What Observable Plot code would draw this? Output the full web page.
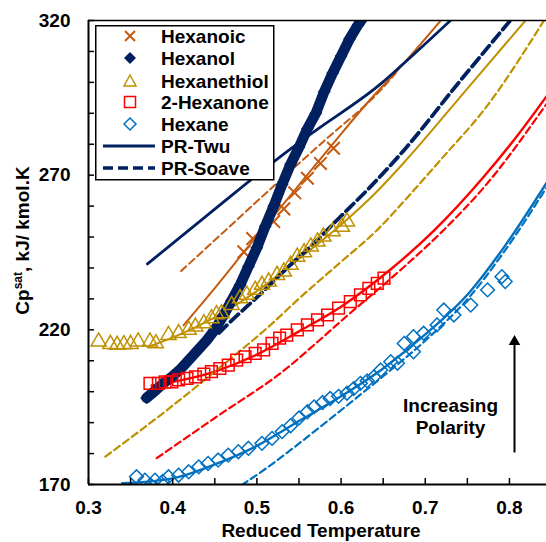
<!DOCTYPE html>
<html><head><meta charset="utf-8">
<script src="https://cdn.jsdelivr.net/npm/d3@7"></script>
<script src="https://cdn.jsdelivr.net/npm/@observablehq/plot@0.6"></script>
<style>
body{margin:0;background:#fff}
#wrap{position:relative;width:546px;height:542px;font-family:"Liberation Sans",Arial,sans-serif}
#legend{position:absolute;left:95px;top:25px}
</style>
</head><body><div id="wrap"></div>
<script>
// ---------- data (reduced temperature, Cp sat kJ/kmol.K) ----------
const hexanoicPts = [[0.4845,245.2],[0.495,249.5],[0.52,255],[0.532,259.1],[0.545,264.3],[0.560,269],[0.5755,273.8],[0.591,278.7]];
const hexanolPts = [[0.369,198],[0.38,200.5],[0.39,203],[0.40,205],[0.41,207.5],[0.42,210.5],[0.43,213.5],[0.44,216.5],[0.45,220],[0.46,224.5],[0.47,229.5],[0.48,234.5],[0.49,240.5],[0.50,246.5],[0.51,253.5],[0.52,260],[0.53,267],[0.54,273.5],[0.55,279],[0.56,285],[0.57,290],[0.58,297],[0.59,303],[0.60,308.5],[0.61,314],[0.62,318.5],[0.625,320.5]];
const thiolPts = [[0.312,216.2],[0.326,215.4],[0.334,215.1],[0.342,215.3],[0.350,215.4],[0.359,216.2],[0.373,216.2],[0.380,215.6],[0.395,218.3],[0.407,218.9],[0.419,220],[0.427,221],[0.437,222.1],[0.446,223.7],[0.452,225],[0.458,225.3],[0.470,228],[0.480,230.2],[0.488,231.3],[0.498,232.9],[0.506,234.5],[0.514,235.6],[0.524,237.7],[0.532,238.8],[0.540,241],[0.548,243.6],[0.556,245],[0.564,246.9],[0.572,248.5],[0.579,250.1],[0.590,251.8],[0.601,253.3],[0.607,255]];
const ketonePts = [[0.373,202.7],[0.383,202.7],[0.391,203.2],[0.399,203.2],[0.407,203.8],[0.417,204.3],[0.427,204.8],[0.437,205.7],[0.446,206.5],[0.456,207.5],[0.466,208.6],[0.476,210.2],[0.486,211.3],[0.498,212.4],[0.508,213.5],[0.518,215.6],[0.527,217.3],[0.5355,218.3],[0.548,220],[0.560,221.6],[0.572,223.2],[0.584,224.8],[0.597,227],[0.611,229.1],[0.623,231.3],[0.633,233.4],[0.643,235],[0.651,236.7]];
const hexanePts = [[0.357,172.5],[0.367,171.4],[0.374,169.8],[0.379,171.4],[0.388,171],[0.395,172.5],[0.407,173],[0.419,174.1],[0.431,175.7],[0.442,176.8],[0.454,177.9],[0.466,179.5],[0.478,180.6],[0.490,181.7],[0.506,183.3],[0.518,184.9],[0.530,187.1],[0.540,189],[0.550,191.5],[0.560,193.5],[0.568,195.1],[0.578,196.5],[0.587,197.8],[0.597,198.5],[0.607,199.5],[0.615,201],[0.623,202.7],[0.631,203.5],[0.639,204.8],[0.647,207],[0.659,209.7],[0.667,209.2],[0.675,215.6],[0.686,217.8],[0.686,212.9],[0.698,218.9],[0.714,221.6],[0.722,226.4],[0.734,224.8],[0.754,228],[0.774,232.9],[0.791,237.2],[0.795,235.6]];

const hexanoicTwu = [[0.413,221.5],[0.45,233.5],[0.49,247],[0.54,263.5],[0.59,280],[0.63,293],[0.674,306],[0.72,320.5]];
const hexanoicSoave = [[0.41,239],[0.46,251.5],[0.51,264],[0.5795,281],[0.647,297.5],[0.665,303]];
const hexanolTwu = [[0.37,241.3],[0.45,259],[0.528,276],[0.5676,284],[0.647,299.5],[0.674,306],[0.73,320]];
const hexanolSoave = [[0.455,219],[0.474,224],[0.50,230.5],[0.536,240],[0.5716,249],[0.5953,255.5],[0.635,266.3],[0.6745,278],[0.74,300],[0.801,320]];
const thiolTwu = [[0.37,214.5],[0.40,217.5],[0.45,224],[0.50,232.5],[0.55,243],[0.60,254],[0.64,264],[0.6745,274],[0.75,298],[0.819,320]];
const thiolSoave = [[0.32,179],[0.40,195.5],[0.45,206.5],[0.52,222.5],[0.548,229.6],[0.60,242],[0.643,252.3],[0.6745,261.5],[0.72,275.5],[0.7695,291],[0.841,320]];
const ketoneTwu = [[0.375,202],[0.45,206.5],[0.50,212],[0.55,219.5],[0.60,227.5],[0.6587,239.5],[0.71,252],[0.7695,269.5],[0.81,283],[0.844,295.5]];
const ketoneSoave = [[0.381,178.5],[0.45,191.5],[0.5375,208],[0.5716,216],[0.607,224.5],[0.6587,236.5],[0.722,252.3],[0.7695,266],[0.844,293]];
const hexaneTwu = [[0.34,170.4],[0.40,172],[0.45,176.5],[0.50,182.5],[0.55,190.5],[0.60,198.5],[0.65,207.5],[0.70,218.5],[0.7537,232.5],[0.793,246.5],[0.844,267.5]];
const hexaneSoave = [[0.482,169.8],[0.516,176.2],[0.5375,180.6],[0.5755,188.7],[0.615,197.3],[0.65,205],[0.70,216.5],[0.7537,231],[0.793,245],[0.844,266]];

const seriesNames = ["Hexanoic","Hexanol","Hexanethiol","2-Hexanone","Hexane"];
const modelNames = ["PR-Twu","PR-Soave"];
const xTickLabels = [0.3,0.4,0.5,0.6,0.7,0.8];
const xMinorTicks = [0.3,0.35,0.4,0.45,0.5,0.55,0.6,0.65,0.7,0.75,0.8];
const yTickLabels = [170,220,270,320];
const yMinorTicks = [170,180,190,200,210,220,230,240,250,260,270,280,290,300,310,320];
const xTitle = "Reduced Temperature";
const yTitleParts = ["Cp", "sat", ", kJ/ kmol.K"];
const annotationText = "Increasing\nPolarity";
const annotationPos = [0.73, 192.1];
const arrowX = 0.806, arrowFrom = 180.2, arrowTo = 216.2;

// ---------- styling ----------
const C = {hexanoic:"#C55A11", hexanol:"#002060", thiol:"#BF9000", ketone:"#FF0000", hexane:"#0070C0"};
const rows = a => a.map(([x,y]) => ({x,y}));
const FONT = "'Liberation Sans', Arial, sans-serif";

const line = (d, color, w, dash) => Plot.line(rows(d), {x:"x", y:"y", stroke: color, strokeWidth: w, strokeDasharray: dash, curve: "monotone-x", clip: true});

const chart = Plot.plot({
  width: 546, height: 542,
  marginLeft: 88, marginRight: 0, marginTop: 20, marginBottom: 58,
  x: {domain: [0.3, 0.844]},
  y: {domain: [170, 320]},
  style: {fontFamily: FONT, fontSize: "19px", fontWeight: "bold", color: "#000", background: "#fff", overflow: "visible"},
  marks: [
    // model curves
    line(hexaneSoave, C.hexane, 2.2, "7,4"),
    line(hexaneTwu, C.hexane, 2.4, null),
    line(ketoneSoave, C.ketone, 2.2, "7,4"),
    line(ketoneTwu, C.ketone, 2.4, null),
    line(thiolSoave, C.thiol, 2.2, "7,4"),
    line(thiolTwu, C.thiol, 2, null),
    line(hexanoicSoave, C.hexanoic, 2, "7,4"),
    line(hexanoicTwu, C.hexanoic, 2, null),
    line(hexanolSoave, C.hexanol, 3.8, "11,5"),
    line(hexanolTwu, C.hexanol, 2.8, null),
    // experimental data
    Plot.dot(rows(hexanoicPts), {x:"x", y:"y", symbol:"times", stroke:C.hexanoic, strokeWidth:2, r:5.8, clip:true}),
    Plot.line(rows(hexanolPts), {x:"x", y:"y", stroke:C.hexanol, strokeWidth:10.5, clip:true}),
    Plot.dot(rows(hexanolPts), {x:"x", y:"y", symbol:"diamond2", fill:C.hexanol, stroke:"none", r:5.8, clip:true}),
    Plot.dot(rows(thiolPts), {x:"x", y:"y", symbol:"triangle", stroke:C.thiol, fill:"none", strokeWidth:1.5, r:5.6, clip:true}),
    Plot.dot(rows(ketonePts), {x:"x", y:"y", symbol:"square", stroke:C.ketone, fill:"none", strokeWidth:1.5, r:6.6, clip:true}),
    Plot.dot(rows(hexanePts), {x:"x", y:"y", symbol:"diamond2", stroke:C.hexane, fill:"none", strokeWidth:1.5, r:6.2, clip:true}),
    // annotation
    Plot.ruleX([arrowX], {y1: arrowFrom, y2: arrowTo - 1, stroke:"#000", strokeWidth:2}),
    Plot.dot([arrowX], {x: d => d, y: arrowTo, symbol:"triangle", fill:"#000", r:4.3}),
    Plot.text([annotationText], {x: annotationPos[0], y: annotationPos[1], text: d => d, lineHeight: 1.16, fontSize: 19, fontWeight: "bold", fill: "#000"}),
    // frame lines
    Plot.ruleY([320], {stroke:"#000", strokeWidth:1.3}),
    Plot.ruleX([0.3], {stroke:"#000", strokeWidth:2}),
    Plot.ruleY([170], {stroke:"#000", strokeWidth:2}),
    // axes
    Plot.axisY({ticks: yMinorTicks, tickSize: -6, text: null, label: null, strokeWidth: 1.5}),
    Plot.axisY({ticks: yTickLabels, tickSize: 0, tickPadding: 18, label: null, fontSize: 19, fontWeight: "bold"}),
    Plot.axisX({ticks: xMinorTicks, tickSize: -6, text: null, label: null, strokeWidth: 1.5}),
    Plot.axisX({ticks: xTickLabels, tickSize: 0, tickPadding: 16, label: null, tickFormat: d3.format(".1f"), fontSize: 19, fontWeight: "bold"})
  ]
});

// axis titles
const svg = d3.select(chart);
svg.append("text")
  .attr("x", 321).attr("y", 536.5).attr("text-anchor", "middle")
  .attr("font-family", FONT).attr("font-size", 19).attr("font-weight", "bold").attr("fill", "#000")
  .text(xTitle);
const yt = svg.append("text")
  .attr("transform", "translate(29,240.5) rotate(-90)").attr("text-anchor", "middle")
  .attr("font-family", FONT).attr("font-size", 19).attr("font-weight", "bold").attr("fill", "#000");
yt.append("tspan").text(yTitleParts[0]);
yt.append("tspan").attr("font-size", 12).attr("dy", -7).text(yTitleParts[1]);
yt.append("tspan").attr("dy", 7).text(yTitleParts[2]);

const wrap = document.getElementById("wrap");
wrap.appendChild(chart);

// ---------- legend ----------
const legendRows = [
  {label: seriesNames[0], kind: "times", color: C.hexanoic},
  {label: seriesNames[1], kind: "diamondFill", color: C.hexanol},
  {label: seriesNames[2], kind: "triangle", color: C.thiol},
  {label: seriesNames[3], kind: "square", color: C.ketone},
  {label: seriesNames[4], kind: "diamond", color: C.hexane},
  {label: modelNames[0], kind: "solid", color: C.hexanol},
  {label: modelNames[1], kind: "dashed", color: C.hexanol}
];
const lg = d3.create("svg").attr("id", "legend").attr("width", 180).attr("height", 157).style("overflow", "visible");
lg.append("rect").attr("x", 0.75).attr("y", 0.75).attr("width", 178).attr("height", 154).attr("fill", "#fff").attr("stroke", "#000").attr("stroke-width", 1.5);
const rowY = [11, 33, 56, 77, 99, 121, 143];
legendRows.forEach((r, i) => {
  const g = lg.append("g").attr("transform", `translate(35,${rowY[i]})`);
  if (r.kind === "times") g.append("path").attr("d", "M-5,-5L5,5M-5,5L5,-5").attr("stroke", r.color).attr("stroke-width", 2);
  if (r.kind === "diamondFill") g.append("path").attr("d", "M0,-6L6,0L0,6L-6,0Z").attr("fill", r.color);
  if (r.kind === "triangle") g.append("path").attr("d", "M0,-6L6,5L-6,5Z").attr("fill", "none").attr("stroke", r.color).attr("stroke-width", 1.5);
  if (r.kind === "square") g.append("rect").attr("x", -5.5).attr("y", -5.5).attr("width", 11).attr("height", 11).attr("fill", "none").attr("stroke", r.color).attr("stroke-width", 1.5);
  if (r.kind === "diamond") g.append("path").attr("d", "M0,-6L6,0L0,6L-6,0Z").attr("fill", "none").attr("stroke", r.color).attr("stroke-width", 1.5);
  if (r.kind === "solid") g.append("line").attr("x1", -27).attr("x2", 25).attr("stroke", r.color).attr("stroke-width", 3);
  if (r.kind === "dashed") g.append("line").attr("x1", -27).attr("x2", 25).attr("stroke", r.color).attr("stroke-width", 3.5).attr("stroke-dasharray", "10,5");
  lg.append("text").attr("x", 66).attr("y", rowY[i]).attr("dy", "0.35em").attr("font-family", FONT).attr("font-size", 19).attr("font-weight", "bold").attr("fill", "#000").text(r.label);
});
wrap.appendChild(lg.node());
</script>
</body></html>
